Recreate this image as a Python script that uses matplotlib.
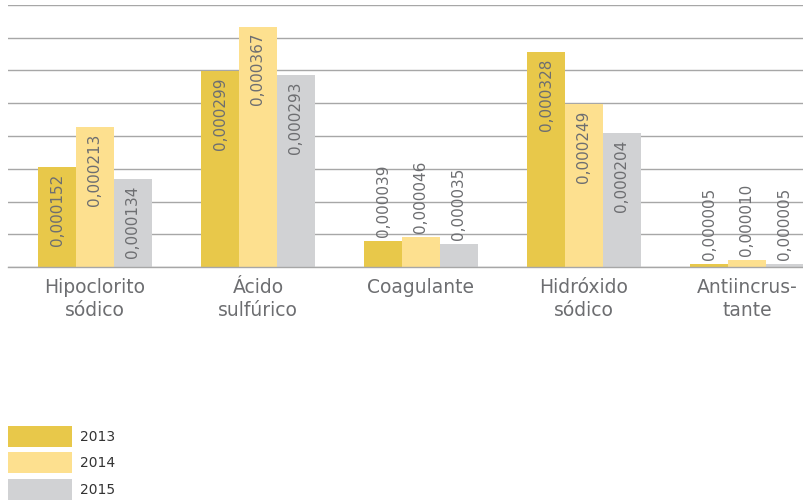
import numpy as np
import matplotlib
matplotlib.use("Agg")
import matplotlib.pyplot as plt
from matplotlib.patches import Patch

# data
categories = ["Hipoclorito\nsódico", "Ácido\nsulfúrico", "Coagulante", "Hidróxido\nsódico", "Antiincrus-\ntante"]
years = ["2013", "2014", "2015"]
v2013 = [0.000152, 0.000299, 0.000039, 0.000328, 0.000005]
v2014 = [0.000213, 0.000367, 0.000046, 0.000249, 0.000010]
v2015 = [0.000134, 0.000293, 0.000035, 0.000204, 0.000005]
labels2013 = ["0,000152", "0,000299", "0,000039", "0,000328", "0,000005"]
labels2014 = ["0,000213", "0,000367", "0,000046", "0,000249", "0,000010"]
labels2015 = ["0,000134", "0,000293", "0,000035", "0,000204", "0,000005"]

colors = ["#e8c84a", "#fde08f", "#d1d2d4"]
text_grey = "#6d6e71"

fig = plt.figure(figsize=(8.04, 5.01), dpi=100)
ax = fig.add_axes([8 / 804, 1 - 267 / 501, 796 / 804, 262 / 501])

x = np.arange(len(categories))
w = 0.233
series = [(v2013, labels2013), (v2014, labels2014), (v2015, labels2015)]
for i, (vals, labs) in enumerate(series):
    xs = x + (i - 1) * w
    ax.bar(xs, vals, width=w, color=colors[i], zorder=2)
    for xi, v, lab in zip(xs, vals, labs):
        # long bars carry the value inside, short ones above
        if v > 0.0001:
            ax.annotate(lab, (xi, v), xytext=(0, -4.5), textcoords="offset points",
                        rotation=90, ha="center", va="top", fontsize=11, color=text_grey)
        else:
            ax.annotate(lab, (xi, v), xytext=(0, 3), textcoords="offset points",
                        rotation=90, ha="center", va="bottom", fontsize=11, color=text_grey)

ax.set_ylim(0, 0.0004)
ax.set_xlim((8 - 95) / 163, (804 - 95) / 163)
ax.set_yticks(np.arange(0, 0.00041, 0.00005))
ax.yaxis.grid(True, color="#a7a7a7", linewidth=1.0, zorder=0)
ax.tick_params(axis="y", left=False, labelleft=False)
ax.tick_params(axis="x", length=0, pad=8, labelsize=13.5, labelcolor=text_grey)
ax.set_xticks(x)
ax.set_xticklabels(categories, linespacing=1.25)
for s in ["top", "right", "left"]:
    ax.spines[s].set_visible(False)
ax.spines["bottom"].set_color("#a7a7a7")
ax.spines["bottom"].set_linewidth(1.0)

handles = [Patch(facecolor=c, edgecolor="none") for c in colors]
fig.legend(handles, years, loc="lower left", bbox_to_anchor=(8 / 804, 1 / 501),
           frameon=False, fontsize=10, handlelength=4.6, handleheight=1.95,
           labelspacing=0.4, handletextpad=0.55, borderpad=0, borderaxespad=0,
           labelcolor="#333333")

fig.savefig("out.png", dpi=100)
